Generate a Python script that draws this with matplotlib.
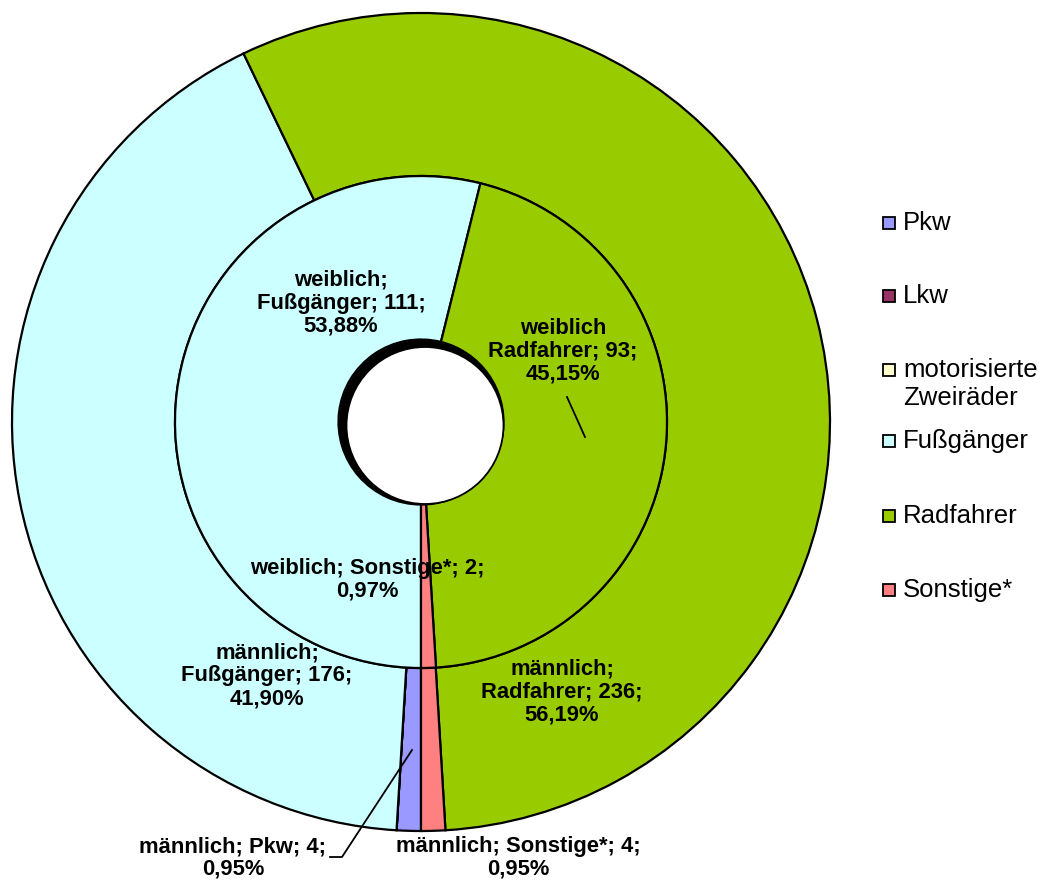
import matplotlib.pyplot as plt
from matplotlib.patches import Circle, Rectangle

# Daten
kategorien = ['Pkw', 'Lkw', 'motorisierte\nZweiräder', 'Fußgänger', 'Radfahrer', 'Sonstige*']
farben = ['#9999FF', '#993366', '#FFFFCC', '#CCFFFF', '#99CC00', '#FF8080']
weiblich = [0, 0, 0, 111, 93, 2]
maennlich = [4, 0, 0, 176, 236, 4]

W, H = 1043, 880
CX, CY, R = 421, 422, 409.0   # Mittelpunkt / Radius in Bildpixeln


def px(x, y):
    # Bildpixel -> Datenkoordinaten
    return (x - CX) / R, (CY - y) / R


plt.rcParams['font.family'] = ['Liberation Sans', 'DejaVu Sans']
fig = plt.figure(figsize=(W / 100, H / 100), dpi=100)
ax = fig.add_axes([0, 0, 1, 1])
ax.axis('off')

r_mitte = 246 / R
r_loch = 82.5 / R
kw = dict(edgecolor='black', linewidth=1.6)

ax.pie(maennlich, radius=1.0, colors=farben, startangle=270, counterclock=False,
       wedgeprops=dict(width=1.0 - r_mitte, **kw))
ax.pie(weiblich, radius=r_mitte, colors=farben, startangle=270, counterclock=False,
       wedgeprops=dict(width=r_mitte - r_loch, **kw))
ax.set_xlim(-CX / R, (W - CX) / R)
ax.set_ylim(-(H - CY) / R, CY / R)
ax.set_aspect('equal')

# Loch mit Schatten
ax.add_patch(Circle(px(421.5, 422.5), r_loch, facecolor='black', edgecolor='none', zorder=5))
ax.add_patch(Circle(px(425, 425.5), 78.5 / R, facecolor='white', edgecolor='black',
                    linewidth=1.3, zorder=6))


def pct(werte, i):
    return f'{werte[i] / sum(werte) * 100:.2f}'.replace('.', ',')


lab = dict(fontsize=15.8, fontweight='bold', ha='center', va='center', linespacing=1.1, zorder=10)
ax.text(*px(341, 303), f'weiblich;\nFußgänger; {weiblich[3]};\n{pct(weiblich, 3)}%', **lab)
ax.text(*px(563, 351), f'weiblich\nRadfahrer; {weiblich[4]};\n{pct(weiblich, 4)}%', **lab)
ax.text(*px(367, 580), f'weiblich; Sonstige*; {weiblich[5]};\n{pct(weiblich, 5)}%', **lab)
ax.text(*px(267, 676), f'männlich;\nFußgänger; {maennlich[3]};\n{pct(maennlich, 3)}%', **lab)
ax.text(*px(562, 692), f'männlich;\nRadfahrer; {maennlich[4]};\n{pct(maennlich, 4)}%', **lab)
ax.text(*px(233, 858), f'männlich; Pkw; {maennlich[0]};\n{pct(maennlich, 0)}%', **lab)
ax.text(*px(518, 858), f'männlich; Sonstige*; {maennlich[5]};\n{pct(maennlich, 5)}%', **lab)

# Führungslinien
x1, y1 = px(567, 397)
x2, y2 = px(585, 437)
ax.plot([x1, x2], [y1, y2], color='black', lw=1.3, zorder=9)
pts = [px(330, 857), px(342, 857), px(412, 750)]
ax.plot([p[0] for p in pts], [p[1] for p in pts], color='black', lw=1.3, zorder=9)

# Legende
leg_y = [230, 303, 377, 448, 523, 597]
for kat, farbe, yb in zip(kategorien, farben, leg_y):
    ax.add_patch(Rectangle(px(883, yb - 1), 12 / R, 12 / R, facecolor=farbe,
                           edgecolor='black', linewidth=1.3, zorder=10))
    for j, zeile in enumerate(kat.split('\n')):
        ax.text(*px(903, yb + 28 * j), zeile, fontsize=18.5, ha='left', va='baseline')

fig.savefig('out.png', dpi=100)
